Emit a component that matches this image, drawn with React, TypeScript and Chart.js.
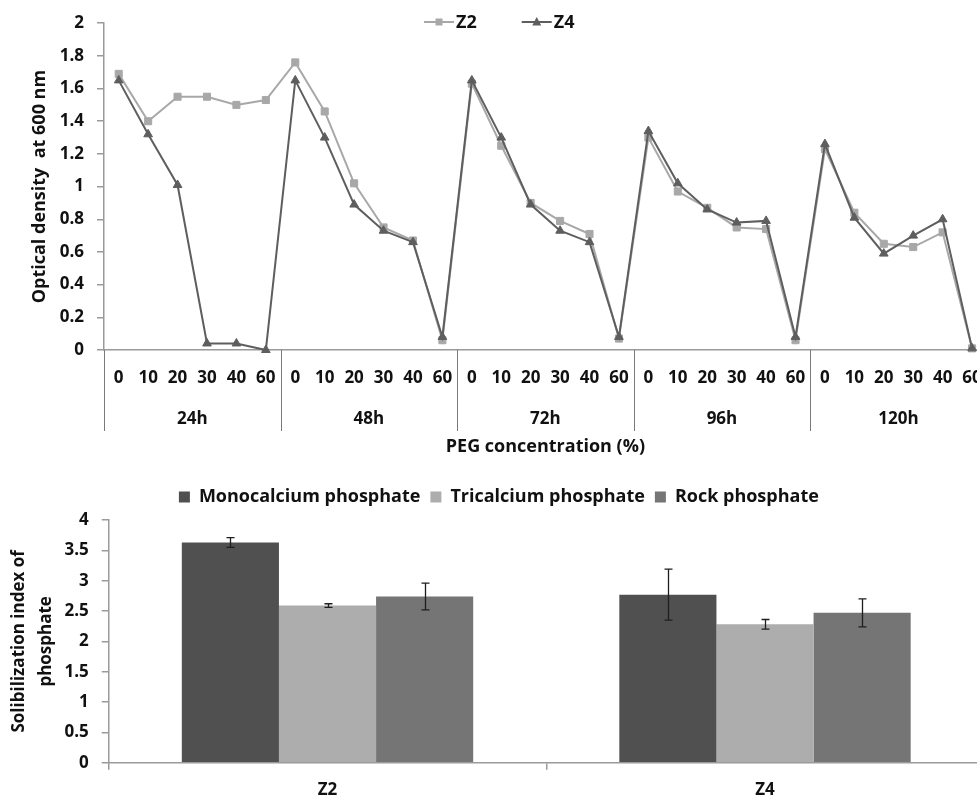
import React, { useEffect, useRef } from 'react';
import { Chart, registerables } from 'chart.js';

Chart.register(...registerables);

const FONT = "'Open Sans', 'DejaVu Sans', sans-serif";
const TEXT = '#111111';
const AXIS = '#9a9a9a';
const DIVIDER = '#7a7a7a';

// Optical density panel
const timePoints = ['24h', '48h', '72h', '96h', '120h'];
const pegLevels = ['0', '10', '20', '30', '40', '60'];

const z2Density = [
  1.69, 1.40, 1.55, 1.55, 1.50, 1.53,
  1.76, 1.46, 1.02, 0.75, 0.67, 0.06,
  1.63, 1.25, 0.90, 0.79, 0.71, 0.07,
  1.30, 0.97, 0.87, 0.75, 0.74, 0.06,
  1.23, 0.84, 0.65, 0.63, 0.72, 0.01,
];
const z4Density = [
  1.65, 1.32, 1.01, 0.04, 0.04, 0.00,
  1.65, 1.30, 0.89, 0.73, 0.66, 0.08,
  1.65, 1.30, 0.89, 0.73, 0.66, 0.08,
  1.34, 1.02, 0.86, 0.78, 0.79, 0.08,
  1.26, 0.81, 0.59, 0.70, 0.80, 0.01,
];
const densityTicks = [0, 0.2, 0.4, 0.6, 0.8, 1, 1.2, 1.4, 1.6, 1.8, 2];

// Solubilization index panel
const strains = ['Z2', 'Z4'];
const monocalcium = [3.63, 2.77];
const monocalciumErr = [0.08, 0.42];
const tricalcium = [2.59, 2.28];
const tricalciumErr = [0.03, 0.08];
const rockPhosphate = [2.74, 2.47];
const rockPhosphateErr = [0.22, 0.23];

const Z2_COLOR = '#a8a8a8';
const Z4_COLOR = '#5e5e5e';

const tickFont = { family: FONT, size: 17, weight: 'bold' as const };
const titleFont = { family: FONT, size: 18, weight: 'bold' as const };

const fmt = (v: number | string) => String(Number(Number(v).toFixed(2)));

// Vertical dividers between time groups, running through both label rows
const groupDividers = {
  id: 'groupDividers',
  afterDraw(chart: any) {
    const { ctx, chartArea } = chart;
    const x = chart.scales.x;
    const groups = chart.scales.groups;
    const per = pegLevels.length;
    ctx.save();
    ctx.strokeStyle = DIVIDER;
    ctx.lineWidth = 1;
    for (let i = 0; i <= timePoints.length; i++) {
      const px = Math.round(x.getPixelForValue(i * per - 0.5)) + 0.5;
      ctx.beginPath();
      ctx.moveTo(px, chartArea.bottom);
      ctx.lineTo(px, groups.bottom);
      ctx.stroke();
    }
    ctx.restore();
  },
};

// Line-and-marker key for the two strains
const seriesKey = {
  id: 'seriesKey',
  afterDraw(chart: any) {
    const { ctx } = chart;
    const cy = 22;
    let x = chart.width / 2 - 76;
    ctx.save();
    ctx.font = `bold 18px ${FONT}`;
    ctx.textBaseline = 'middle';
    ctx.textAlign = 'left';
    chart.data.datasets.forEach((ds: any) => {
      ctx.strokeStyle = ds.borderColor;
      ctx.fillStyle = ds.borderColor;
      ctx.lineWidth = 2;
      ctx.beginPath();
      ctx.moveTo(x, cy);
      ctx.lineTo(x + 30, cy);
      ctx.stroke();
      const mx = x + 15;
      ctx.beginPath();
      if (ds.pointStyle === 'rect') {
        ctx.rect(mx - 3.5, cy - 3.5, 7, 7);
      } else {
        ctx.moveTo(mx, cy - 5);
        ctx.lineTo(mx + 4.5, cy + 3.5);
        ctx.lineTo(mx - 4.5, cy + 3.5);
        ctx.closePath();
      }
      ctx.fill();
      ctx.fillStyle = TEXT;
      ctx.fillText(ds.label, x + 32, cy + 1);
      x += 32 + ctx.measureText(ds.label).width + 45;
    });
    ctx.restore();
  },
};

// Standard-deviation whiskers on the bars
const errorBars = {
  id: 'errorBars',
  afterDatasetsDraw(chart: any, _args: any, opts: any) {
    const { ctx } = chart;
    const y = chart.scales.y;
    ctx.save();
    ctx.strokeStyle = '#1e1e1e';
    ctx.lineWidth = 1.3;
    chart.data.datasets.forEach((ds: any, di: number) => {
      const errs = opts.errors[di];
      chart.getDatasetMeta(di).data.forEach((bar: any, i: number) => {
        const v = ds.data[i];
        const top = y.getPixelForValue(v + errs[i]);
        const bottom = y.getPixelForValue(v - errs[i]);
        const bx = Math.round(bar.x) + 0.5;
        ctx.beginPath();
        ctx.moveTo(bx, top);
        ctx.lineTo(bx, bottom);
        ctx.moveTo(bx - 4, top);
        ctx.lineTo(bx + 4, top);
        ctx.moveTo(bx - 4, bottom);
        ctx.lineTo(bx + 4, bottom);
        ctx.stroke();
      });
    });
    ctx.restore();
  },
};

// Extra room below the legend, and a small horizontal nudge of the legend row
const legendPlacement = {
  id: 'legendPlacement',
  beforeLayout(chart: any, _args: any, opts: any) {
    const legend = chart.legend;
    if (!legend || legend._gapPatched) return;
    const fit = legend.fit;
    legend.fit = function () {
      fit.call(this);
      this.height += opts.extra || 0;
    };
    legend._gapPatched = true;
  },
  afterLayout(chart: any, _args: any, opts: any) {
    const legend = chart.legend;
    if (!legend) return;
    legend.left += opts.shift || 0;
    legend.right += opts.shift || 0;
  },
};

export default function App() {
  const topRef = useRef<HTMLCanvasElement>(null);
  const bottomRef = useRef<HTMLCanvasElement>(null);

  useEffect(() => {
    const densityLabels = timePoints.flatMap(() => pegLevels);

    const density = new Chart(topRef.current!, {
      type: 'line',
      data: {
        labels: densityLabels,
        datasets: [
          {
            label: 'Z2',
            data: z2Density,
            borderColor: Z2_COLOR,
            backgroundColor: Z2_COLOR,
            pointBackgroundColor: Z2_COLOR,
            pointBorderColor: Z2_COLOR,
            borderWidth: 2,
            pointStyle: 'rect',
            pointRadius: 5,
            pointBorderWidth: 1,
            tension: 0,
            clip: false as any,
            order: 1,
          },
          {
            label: 'Z4',
            data: z4Density,
            borderColor: Z4_COLOR,
            backgroundColor: Z4_COLOR,
            pointBackgroundColor: Z4_COLOR,
            pointBorderColor: Z4_COLOR,
            borderWidth: 2,
            pointStyle: 'triangle',
            pointRadius: 5,
            pointBorderWidth: 1,
            tension: 0,
            clip: false as any,
            order: 0,
          },
        ],
      },
      options: {
        animation: false,
        responsive: false,
        devicePixelRatio: 1,
        layout: { padding: { top: 21, right: 13, left: 0, bottom: 0 } },
        plugins: { legend: { display: false }, tooltip: { enabled: false } },
        scales: {
          x: {
            type: 'category',
            position: 'bottom',
            offset: true,
            weight: 0,
            grid: { display: false, drawTicks: false },
            border: { display: true, color: AXIS, width: 1.5 },
            ticks: { font: tickFont, color: TEXT, padding: 18, autoSkip: false, maxRotation: 0 },
            afterFit: (s: any) => { s.height = 48; },
          },
          groups: {
            type: 'category',
            position: 'bottom',
            labels: timePoints,
            offset: true,
            weight: 1,
            grid: { display: false, drawTicks: false },
            border: { display: false },
            ticks: { font: tickFont, color: TEXT, padding: 11, autoSkip: false, maxRotation: 0 },
            afterFit: (s: any) => { s.height = 33; },
          },
          axisTitle: {
            type: 'category',
            position: 'bottom',
            labels: [''],
            weight: 2,
            grid: { display: false, drawTicks: false },
            border: { display: false },
            ticks: { display: false },
            title: {
              display: true,
              text: 'PEG concentration (%)',
              font: titleFont,
              color: TEXT,
              padding: { top: 0, bottom: 2.5 },
            },
            afterFit: (s: any) => { s.height = 29; },
          },
          y: {
            min: 0,
            max: 2,
            afterBuildTicks: (s: any) => { s.ticks = densityTicks.map((v) => ({ value: v })); },
            ticks: { font: tickFont, color: TEXT, padding: 13, callback: (v: any) => fmt(v) },
            grid: { drawOnChartArea: false, tickLength: 7, color: AXIS, lineWidth: 1.5 },
            border: { color: AXIS, width: 1.5 },
            title: {
              display: true,
              text: 'Optical density  at 600 nm',
              font: titleFont,
              color: TEXT,
              padding: { top: 29, bottom: 0 },
            },
            afterFit: (s: any) => { s.width = 104; },
          },
        },
      } as any,
      plugins: [groupDividers, seriesKey],
    });

    const index = new Chart(bottomRef.current!, {
      type: 'bar',
      data: {
        labels: strains,
        datasets: [
          { label: 'Monocalcium phosphate', data: monocalcium, backgroundColor: '#505050' },
          { label: 'Tricalcium phosphate', data: tricalcium, backgroundColor: '#adadad' },
          { label: 'Rock phosphate', data: rockPhosphate, backgroundColor: '#757575' },
        ],
      },
      options: {
        animation: false,
        responsive: false,
        devicePixelRatio: 1,
        datasets: { bar: { categoryPercentage: 0.666, barPercentage: 1 } },
        layout: { padding: { top: 18, right: 16.25, left: 0, bottom: 0 } },
        plugins: {
          tooltip: { enabled: false },
          legend: {
            position: 'top',
            labels: {
              boxWidth: 11,
              boxHeight: 11,
              padding: 10,
              color: TEXT,
              font: { family: FONT, size: 18, weight: 'bold' },
            },
          },
          errorBars: { errors: [monocalciumErr, tricalciumErr, rockPhosphateErr] },
          legendPlacement: { extra: 4, shift: 7 },
        },
        scales: {
          x: {
            offset: true,
            grid: { display: true, drawOnChartArea: false, offset: true, tickLength: 7, color: AXIS, lineWidth: 1.5 },
            border: { color: AXIS, width: 1.5 },
            ticks: { font: tickFont, color: TEXT, padding: 10 },
            afterFit: (s: any) => { s.height = 37.3; },
          },
          y: {
            min: 0,
            max: 4,
            ticks: { stepSize: 0.5, font: tickFont, color: TEXT, padding: 13, callback: (v: any) => fmt(v) },
            grid: { drawOnChartArea: false, tickLength: 7, color: AXIS, lineWidth: 1.5 },
            border: { color: AXIS, width: 1.5 },
            title: {
              display: true,
              text: ['Solibilization index of', 'phosphate'],
              font: { family: FONT, size: 17, weight: 'bold', lineHeight: 1.6 },
              color: TEXT,
              padding: { top: 5.4, bottom: 0 },
            },
            afterFit: (s: any) => { s.width = 108.75; },
          },
        },
      } as any,
      plugins: [errorBars, legendPlacement],
    });

    return () => {
      density.destroy();
      index.destroy();
    };
  }, []);

  return (
    <div
      style={{
        position: 'fixed',
        left: 0,
        top: 0,
        width: 977,
        height: 798,
        overflow: 'hidden',
        background: '#ffffff',
      }}
    >
      <canvas
        ref={topRef}
        width={1000}
        height={460}
        style={{ position: 'absolute', left: 0, top: 0, width: 1000, height: 460 }}
      />
      <canvas
        ref={bottomRef}
        width={1000}
        height={340}
        style={{ position: 'absolute', left: 0, top: 460, width: 1000, height: 340 }}
      />
    </div>
  );
}
